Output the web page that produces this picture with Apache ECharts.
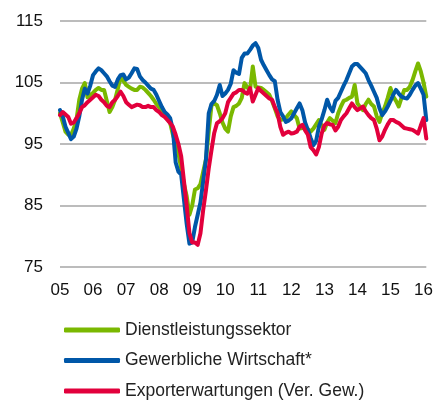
<!DOCTYPE html>
<html>
<head>
<meta charset="utf-8">
<script src="https://cdn.jsdelivr.net/npm/echarts@6/dist/echarts.min.js"></script>
<style>
  html, body { margin: 0; padding: 0; background: #fff; }
  #chart { width: 436px; height: 403px; }
</style>
</head>
<body>
<div id="chart"></div>
<script>
// monthly, Jan 2005 .. Feb 2016
const years = ["05", "06", "07", "08", "09", "10", "11", "12", "13", "14", "15", "16"]
const months = []
for (let y = 0; y < years.length; y++) {
  for (let m = 0; m < 12; m++) months.push(years[y] + "-" + (m + 1))
}
months.length = 134

const dienstleistung = [
  100, 98.5, 97, 96.5, 96.5, 97.5, 99, 102.2, 104, 104.9, 102.6, 103,
  103.3, 103.8, 104.1, 103.8, 103.8, 102, 100.2, 101, 102.2, 104, 105.9, 105.3,
  104.6, 104.3, 104, 103.8, 103.8, 104.3, 104.2, 103.8, 103.3, 102.8, 102.2, 101.5,
  101, 100.2, 99.5, 99.2, 98.4, 96.5, 95, 93.5, 91, 88.5, 86.5, 83.5,
  85, 87.6, 87.8, 88.5, 90.5, 92.5, 97, 101.3, 101.6, 101.3, 100, 98.5,
  97.5, 97, 99.5, 101, 101.2, 101.6, 102.5, 104.9, 104.2, 103.8, 107.6, 104.3,
  104.2, 104.1, 103.8, 103.4, 103, 102, 100.8, 99.5, 98.9, 99, 99.2, 99.8,
  100.3, 99.7, 99.2, 97.5, 97.6, 97.8, 97.4, 97, 97.5, 98.2, 98.9, 98,
  97.3, 98.5, 99.2, 98.8, 98.4, 100, 101.1, 102, 102.2, 102.5, 102.7, 104.6,
  101.6, 101, 100.5, 101.5, 102.2, 101.5, 101.1, 99.5, 98.6, 100, 101.1, 102.5,
  104.1, 102.7, 102, 101.1, 102.5, 103.8, 103.8, 104.3, 105.4, 106.8, 108.1, 106.8,
  105, 102.7
]

const gewerblich = [
  100.5, 99.5, 97.8, 96.8, 95.8, 96.2, 97.5, 99.5, 102.2, 104, 103.2, 104.5,
  106.2, 106.8, 107.3, 107, 106.5, 106, 105.2, 104.5, 104.3, 105.5, 106.2, 106.3,
  105.5, 105.8, 106.5, 107.3, 107.2, 106, 105.4, 105, 104.5, 104, 103.8, 103,
  102, 101, 100.2, 99.8, 99.2, 97.3, 92, 90.5, 90, 86, 82, 78.8,
  79, 81.5, 83.5, 85.5, 89, 92.5, 100, 101.5, 102, 103, 104.6, 102.8,
  103.2, 103.8, 104.8, 107, 106.6, 106.4, 109, 109.7, 109.7, 110.3, 111, 111.4,
  110.6, 108.7, 107.8, 107, 106.2, 105.5, 105.2, 102.2, 100.2, 99.5, 98.6, 98.8,
  99.2, 100, 100.8, 101.6, 100.5, 98.5, 97.3, 96, 94.8, 95.5, 97.8, 99,
  100.5, 102.2, 101, 100.3, 102, 102.5, 103.5, 104.5, 105.4, 106.5, 107.6, 108,
  108, 107.5, 107, 106.5, 105.4, 104.5, 103.5, 102.5, 100.8, 99.7, 100.3, 101.1,
  102, 103, 103.8, 103.2, 102.7, 102.5, 102.4, 103, 103.8, 104.5, 104.9, 104,
  103, 98.9
]

const export_ = [
  99.7, 100.2, 99.8, 99.4, 98.3, 98.5, 99.2, 100, 101, 101.3, 101.8, 102.2,
  102.6, 103, 102.8, 102.2, 101.8, 101.2, 101, 101.8, 102.2, 102.8, 103.5, 102.8,
  101.8, 101.4, 101, 101.2, 101.4, 101.3, 101, 101, 101.2, 101, 101, 100.5,
  100.2, 99.7, 99.4, 98.9, 98.4, 97.8, 96.5, 95, 93, 89, 85, 80.5,
  79, 79, 78.6, 80.5, 84.3, 87.5, 91, 94, 96.8, 98.4, 98.7, 99.2,
  100, 101.8, 102.5, 103.2, 103.4, 103.8, 103.8, 103.4, 103.2, 104.1, 101.9, 103,
  104.1, 103.6, 103.2, 102.8, 102.4, 102.2, 101, 100, 97.8, 96.5, 96.8, 97,
  96.7, 96.8, 97, 97.8, 98.1, 97.2, 96.5, 94.5, 94, 93.3, 94.5, 96.7,
  98, 98.4, 98.2, 98.1, 97.2, 97.8, 98.9, 99.5, 100, 100.8, 101.6, 101,
  100.5, 100.8, 101.1, 100.3, 99.7, 99.2, 98.9, 97.5, 95.6, 96.2, 97.3, 98.2,
  98.9, 98.9, 98.6, 98.4, 98, 97.6, 97.5, 97.4, 97.3, 97, 96.7, 98,
  99.2, 95.9
]

const yTicks = [75, 85, 95, 105, 115]

const chart = echarts.init(document.getElementById("chart"))

const lineSeries = (name, data, color) => ({
  name: name,
  type: "line",
  data: data,
  symbol: "none",
  smooth: false,
  lineStyle: { color: color, width: 4, join: "round", cap: "round" },
  itemStyle: { color: color },
  animation: false
})

chart.setOption({
  animation: false,
  grid: { left: 60, right: 8, top: 21, bottom: 136 },
  xAxis: {
    type: "category",
    boundaryGap: false,
    data: months,
    axisLine: { show: false },
    axisTick: { show: false },
    axisLabel: {
      interval: 11,
      margin: 15,
      color: "#111",
      fontFamily: "Liberation Sans, Arial, sans-serif",
      fontSize: 17,
      formatter: v => v.split("-")[0]
    }
  },
  yAxis: {
    type: "value",
    min: yTicks[0],
    max: yTicks[yTicks.length - 1],
    interval: 10,
    axisLine: { show: false },
    axisTick: { show: false },
    axisLabel: {
      margin: 17,
      color: "#111",
      fontFamily: "Liberation Sans, Arial, sans-serif",
      fontSize: 17
    },
    splitLine: { lineStyle: { color: "#a6a6a6", width: 1.5 } }
  },
  legend: {
    orient: "vertical",
    left: 64,
    top: 320,
    padding: 0,
    icon: "roundRect",
    itemWidth: 56,
    itemHeight: 5,
    itemGap: 10.5,
    textStyle: {
      color: "#222",
      fontFamily: "Liberation Sans, Arial, sans-serif",
      fontSize: 17.5,
      lineHeight: 20
    },
    data: ["Dienstleistungssektor", "Gewerbliche Wirtschaft*", "Exporterwartungen (Ver. Gew.)"]
  },
  series: [
    lineSeries("Dienstleistungssektor", dienstleistung, "#7ab800"),
    lineSeries("Gewerbliche Wirtschaft*", gewerblich, "#0057a8"),
    lineSeries("Exporterwartungen (Ver. Gew.)", export_, "#e2003c")
  ]
})
</script>
</body>
</html>
